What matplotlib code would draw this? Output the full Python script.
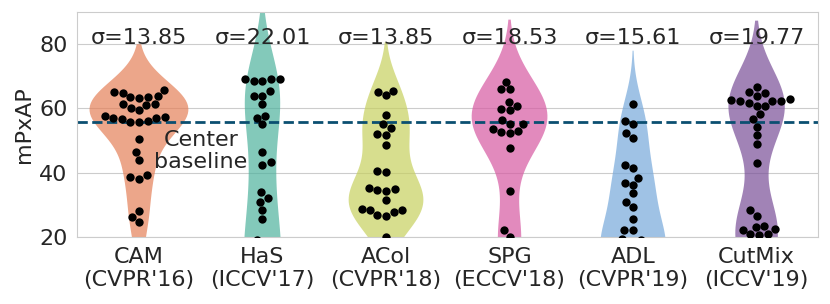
import matplotlib
matplotlib.use("Agg")
import matplotlib.pyplot as plt
import seaborn as sns
import pandas as pd

methods = ["CAM", "HaS", "ACol", "SPG", "ADL", "CutMix"]
tick_labels = ["CAM\n(CVPR'16)", "HaS\n(ICCV'17)", "ACol\n(CVPR'18)",
               "SPG\n(ECCV'18)", "ADL\n(CVPR'19)", "CutMix\n(ICCV'19)"]
sigmas = ["σ=13.85", "σ=22.01", "σ=13.85", "σ=18.53", "σ=15.61", "σ=19.77"]

# values; points below 20 are hidden by the y-limit
# and are estimated from the violin shapes
cam = [65.2, 64.9, 65.6, 63.7, 63.3, 63.6, 63.6, 61.5, 61.3, 61.0, 60.2, 59.5,
       57.5, 56.7, 55.8, 55.8, 56.1, 57.0, 57.1, 57.2, 50.5, 46.5, 44.1,
       38.8, 38.2, 39.4, 28.2, 26.2, 24.7, 12.0]
has = [69.1, 69.1, 68.4, 68.4, 69.2, 65.5, 64.0, 64.0, 61.4, 57.0, 57.6, 55.1,
       46.3, 43.2, 42.5, 33.9, 32.3, 30.9, 28.4, 25.7,
       19.0, 17.0, 15.5, 14.0, 12.5, 11.0, 9.5, 8.0, 6.5, 5.0, 3.0, 1.0]
acol = [65.1, 64.1, 65.5, 57.8, 55.1, 53.9, 51.8, 52.0, 48.7, 40.1, 40.6,
        35.4, 34.3, 34.5, 34.9, 31.6, 28.7, 28.3, 26.8, 26.6, 27.8, 28.3, 20.0]
spg = [68.2, 65.9, 65.9, 62.1, 60.9, 59.8, 59.4, 56.4, 55.2, 55.2,
       53.6, 52.8, 52.5, 53.0, 47.7, 34.2, 22.1, 20.0, 16.0, 12.0]
adl = [61.3, 56.2, 55.1, 52.4, 50.9, 42.5, 41.4, 38.5, 36.3, 36.9, 33.6,
       30.8, 29.5, 25.6, 22.1, 22.3,
       19.5, 19.0, 18.0, 17.0, 16.0, 15.0, 14.0, 13.0, 12.0, 10.0, 8.0, 6.0]
cutmix = [66.8, 65.2, 64.8, 64.0, 62.4, 62.4, 62.8, 62.4, 62.6, 60.8, 60.8,
          61.8, 58.4, 56.7, 54.3, 51.6, 48.9, 43.1, 28.3, 26.7, 23.6, 22.3,
          21.0, 20.7, 21.1, 22.5, 23.1, 18.5, 16.0, 13.0, 10.0]
center_baseline = 55.7

colors = ["#e58058", "#4eb29d", "#c7d05f", "#d659a2", "#77a9db", "#794f98"]

all_vals = [cam, has, acol, spg, adl, cutmix]
df = pd.DataFrame({
    "method": [m for m, v in zip(methods, all_vals) for _ in v],
    "mPxAP": [x for v in all_vals for x in v],
})

sns.set_style("whitegrid")
plt.rcParams["font.family"] = ["DejaVu Sans"]

fig, ax = plt.subplots(figsize=(8.3, 3.04), dpi=100)
fig.subplots_adjust(left=0.093, right=0.986, top=0.961, bottom=0.220)

sns.violinplot(data=df, x="method", y="mPxAP", order=methods,
               color=colors[0], inner=None, linewidth=0, saturation=1,
               density_norm="area", ax=ax)
for coll, c in zip(ax.collections, colors):
    coll.set_facecolor(c)
    coll.set_edgecolor("none")
    coll.set_alpha(0.7)
sns.swarmplot(data=df, x="method", y="mPxAP", order=methods, color="black",
              size=6, ax=ax)

ax.axhline(center_baseline, color="#0b4f71", linestyle="--", linewidth=2)

for i, s in enumerate(sigmas):
    ax.text(i, 80, s, ha="center", va="baseline", fontsize=16)

ax.text(0.5, 46.8, "Center\nbaseline", ha="center", va="center",
        fontsize=16, linespacing=1.1)

ax.set_ylim(20, 90)
ax.set_xlim(-0.5, 5.5)
ax.set_yticks([20, 40, 60, 80])
ax.set_xticks(range(len(methods)))
ax.set_xticklabels(tick_labels)
ax.tick_params(axis="both", labelsize=16)
ax.set_xlabel("")
ax.set_ylabel("mPxAP", fontsize=16)

fig.savefig("out.png", dpi=100)
